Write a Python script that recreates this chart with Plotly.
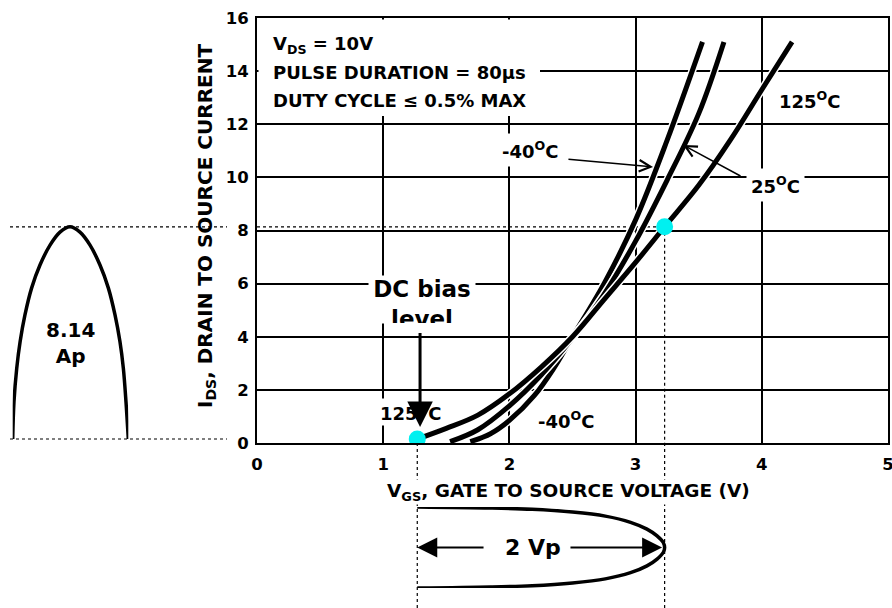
import plotly.graph_objects as go

# ---------------- data ----------------
# Transfer characteristics I_DS vs V_GS at three temperatures
vgs_m40 = [1.69, 1.85, 2.0, 2.2, 2.35, 2.5, 2.75, 3.0, 3.25, 3.53]
ids_m40 = [0.05, 0.35, 0.85, 1.8, 2.8, 4.0, 6.0, 8.4, 11.4, 15.1]

vgs_25 = [1.53, 1.75, 2.0, 2.25, 2.5, 2.75, 3.0, 3.25, 3.5, 3.7]
ids_25 = [0.05, 0.5, 1.4, 2.55, 3.95, 5.6, 7.6, 9.9, 12.4, 15.1]

vgs_125 = [1.27, 1.5, 1.75, 2.0, 2.25, 2.5, 2.75, 3.0, 3.23, 3.5, 3.75, 4.0, 4.24]
ids_125 = [0.15, 0.55, 1.05, 1.85, 2.85, 4.0, 5.4, 6.8, 8.14, 9.7, 11.4, 13.3, 15.1]

# operating points
bias_v = 1.27
bias_i = 0.15
peak_v = 3.23
peak_i = 8.14

# current pulse (left), time normalised 0..1
pulse_i_t = [0, 0.011, 0.035, 0.064, 0.106, 0.164, 0.236, 0.323, 0.409, 0.496,
             0.582, 0.669, 0.755, 0.827, 0.885, 0.928, 0.957, 0.98, 1.0]
pulse_i = [0.15, 1.55, 2.82, 3.81, 4.82, 5.84, 6.70, 7.45, 7.94, 8.14,
           7.94, 7.45, 6.70, 5.84, 4.82, 3.81, 2.82, 1.55, 0.15]

# gate-voltage pulse (bottom), time normalised 0..1 (downwards)
pulse_v = [1.27, 1.85, 2.18, 2.50, 2.76, 2.96, 3.09, 3.17, 3.22, 3.23,
           3.22, 3.17, 3.09, 2.96, 2.76, 2.50, 2.18, 1.85, 1.27]
pulse_v_t = [0, 0.013, 0.029, 0.063, 0.113, 0.189, 0.273, 0.357, 0.441, 0.5,
             0.559, 0.643, 0.727, 0.811, 0.887, 0.937, 0.971, 0.987, 1.0]

x_ticks = [0, 1, 2, 3, 4, 5]
y_ticks = [0, 2, 4, 6, 8, 10, 12, 14, 16]

# ---------------- layout geometry ----------------
W, H = 892, 608
PL, PR, PT, PB = 257, 888, 18, 443  # plot frame in pixels
FONT = "DejaVu Sans"


def px(x):
    return x / W


def py(y):
    return (H - y) / H


fig = go.Figure()

# curves with thin white edges
for vs, iss in [(vgs_m40, ids_m40), (vgs_25, ids_25), (vgs_125, ids_125)]:
    fig.add_trace(go.Scatter(x=vs, y=iss, mode="lines",
                             line=dict(color="white", width=8, shape="spline"),
                             hoverinfo="skip"))
    fig.add_trace(go.Scatter(x=vs, y=iss, mode="lines",
                             line=dict(color="black", width=5, shape="spline")))

# operating points
fig.add_trace(go.Scatter(x=[bias_v, peak_v], y=[bias_i, peak_i], mode="markers",
                         marker=dict(color="#00f0f0", size=17, line=dict(width=0))))

# left current pulse
fig.add_trace(go.Scatter(x=pulse_i_t, y=pulse_i, mode="lines", xaxis="x2", yaxis="y2",
                         line=dict(color="black", width=3.5, shape="spline")))
# bottom voltage pulse
fig.add_trace(go.Scatter(x=pulse_v, y=pulse_v_t, mode="lines", xaxis="x3", yaxis="y3",
                         line=dict(color="black", width=3.5, shape="spline")))

dot = dict(color="black", width=1.2, dash="dot")
shapes = [
    # horizontal guide at peak current
    dict(type="line", xref="paper", yref="y", x0=px(10), x1=px(227), y0=peak_i, y1=peak_i,
         line=dot, layer="below"),
    dict(type="line", xref="x", yref="y", x0=0, x1=peak_v, y0=peak_i, y1=peak_i,
         line=dot, layer="below"),
    # horizontal guide at bias current
    dict(type="line", xref="paper", yref="y", x0=px(10), x1=px(227), y0=bias_i, y1=bias_i,
         line=dot, layer="below"),
    # vertical guides
    dict(type="line", xref="x", yref="y", x0=peak_v, x1=peak_v, y0=peak_i, y1=0,
         line=dot, layer="below"),
    dict(type="line", xref="x", yref="paper", x0=peak_v, x1=peak_v, y0=py(PB), y1=0,
         line=dot, layer="below"),
    dict(type="line", xref="x", yref="paper", x0=bias_v, x1=bias_v, y0=py(PB), y1=0,
         line=dot, layer="below"),
    # white box behind the test-condition text
    dict(type="rect", xref="paper", yref="paper", x0=px(258.5), x1=px(540),
         y0=py(116), y1=py(19.5), fillcolor="white", line=dict(width=0), layer="above"),
]

bold = dict(family=FONT, weight="bold", color="black")


def f(size):
    d = dict(bold)
    d["size"] = size
    return d


ann = []
# test conditions
for txt, yy in [("V<sub>DS</sub> = 10V", 45), ("PULSE DURATION = 80\u03bcs", 72.5),
                ("DUTY CYCLE \u2264 0.5% MAX", 100.5)]:
    ann.append(dict(text=txt, xref="paper", yref="paper", x=px(271), y=py(yy),
                    xanchor="left", yanchor="middle", showarrow=False, font=f(18)))

label_bg = dict(bgcolor="white", borderpad=4, xanchor="center", yanchor="middle")
ann += [
    dict(text="125<sup>O</sup>C", xref="x", yref="y", x=4.38, y=12.91, showarrow=False,
         font=f(18), **label_bg),
    dict(text="-40<sup>O</sup>C", xref="x", yref="y", x=2.163, y=11.03, showarrow=False,
         font=f(18), **label_bg),
    dict(text="25<sup>O</sup>C", xref="x", yref="y", x=4.105, y=9.71, showarrow=False,
         font=f(18), **label_bg),
    dict(text="-40<sup>O</sup>C", xref="x", yref="y", x=2.45, y=0.87, showarrow=False,
         font=f(18), **label_bg),
    dict(text="125<sup>O</sup>C", xref="x", yref="y", x=1.22, y=1.17, showarrow=False,
         font=f(18), bgcolor="white", borderpad=1, xanchor="center", yanchor="middle"),
    # arrows to the curves
    dict(text="", xref="x", yref="y", x=3.138, y=10.39, axref="x", ayref="y",
         ax=2.456, ay=10.69, showarrow=True, arrowhead=5, arrowsize=1.5, arrowwidth=1.5,
         arrowcolor="black"),
    dict(text="", xref="x", yref="y", x=3.376, y=11.22, axref="x", ayref="y",
         ax=3.843, ay=10.02, showarrow=True, arrowhead=5, arrowsize=1.5, arrowwidth=1.5,
         arrowcolor="black"),
    # DC bias label (bottom of 'level' clipped as in the original)
    dict(text="DC bias<br>level", xref="x", yref="paper", x=1.307, y=py(275),
         xanchor="center", yanchor="top", valign="top", showarrow=False, font=f(23),
         bgcolor="white", borderpad=0, width=106, height=47),
    dict(text="", xref="x", yref="y", x=1.292, y=0.6, axref="x", ayref="y",
         ax=1.292, ay=4.2, showarrow=True, arrowhead=2, arrowsize=1.7, arrowwidth=3,
         arrowcolor="black"),
    # pulse labels
    dict(text="8.14<br>Ap", xref="x2", yref="y2", x=0.5, y=3.77, showarrow=False,
         xanchor="center", yanchor="middle", font=f(20)),
    dict(text="2 Vp", xref="x3", yref="y3", x=2.187, y=0.5, showarrow=False,
         xanchor="center", yanchor="middle", font=f(22)),
    dict(text="", xref="x3", yref="y3", x=bias_v, y=0.5, axref="x3", ayref="y3",
         ax=1.807, ay=0.5, showarrow=True, arrowhead=2, arrowsize=2, arrowwidth=2,
         arrowcolor="black"),
    dict(text="", xref="x3", yref="y3", x=3.21, y=0.5, axref="x3", ayref="y3",
         ax=2.472, ay=0.5, showarrow=True, arrowhead=2, arrowsize=2, arrowwidth=2,
         arrowcolor="black"),
    # axis titles
    dict(text="V<sub>GS</sub>, GATE TO SOURCE VOLTAGE (V)", xref="paper", yref="paper",
         x=px(568), y=py(492), xanchor="center", yanchor="middle", showarrow=False,
         font=f(18.5), bgcolor="white", borderpad=0),
    dict(text="I<sub>DS</sub>, DRAIN TO SOURCE CURRENT", xref="paper", yref="paper",
         x=px(206), y=py(226), xanchor="center", yanchor="middle", textangle=-90,
         showarrow=False, font=f(20)),
]

axis_common = dict(showgrid=True, gridcolor="black", showline=True, mirror=True,
                   linecolor="black", linewidth=2, zeroline=False, ticks="",
                   automargin=False, fixedrange=True, ticklabeloverflow="allow")

fig.update_layout(
    width=W, height=H,
    margin=dict(l=0, r=0, t=0, b=0),
    paper_bgcolor="white", plot_bgcolor="white",
    showlegend=False,
    font=dict(family=FONT, color="black"),
    xaxis=dict(domain=[px(PL), px(PR)], range=[0, 5], tickvals=x_ticks,
               ticktext=[str(v) for v in x_ticks], gridwidth=1.5,
               tickfont=f(16.5), ticklabelstandoff=5, anchor="y", **axis_common),
    yaxis=dict(domain=[py(PB), py(PT)], range=[0, 16], tickvals=y_ticks,
               ticktext=[str(v) for v in y_ticks], gridwidth=2,
               tickfont=f(16.5), ticklabelstandoff=3, anchor="x", **axis_common),
    xaxis2=dict(domain=[px(12.7), px(128.3)], range=[0, 1], visible=False, anchor="y2",
                fixedrange=True),
    yaxis2=dict(domain=[py(PB), py(PT)], range=[0, 16], visible=False, anchor="x2",
                fixedrange=True),
    xaxis3=dict(domain=[px(PL), px(PR)], range=[0, 5], visible=False, anchor="y3",
                fixedrange=True),
    yaxis3=dict(domain=[py(588), py(507)], range=[1, 0], visible=False, anchor="x3",
                fixedrange=True),
    shapes=shapes,
    annotations=ann,
)

fig.write_html("out.html",
               config={"displayModeBar": False},
               post_script="document.body.style.margin='0px';"
                           "document.body.style.overflow='hidden';")
